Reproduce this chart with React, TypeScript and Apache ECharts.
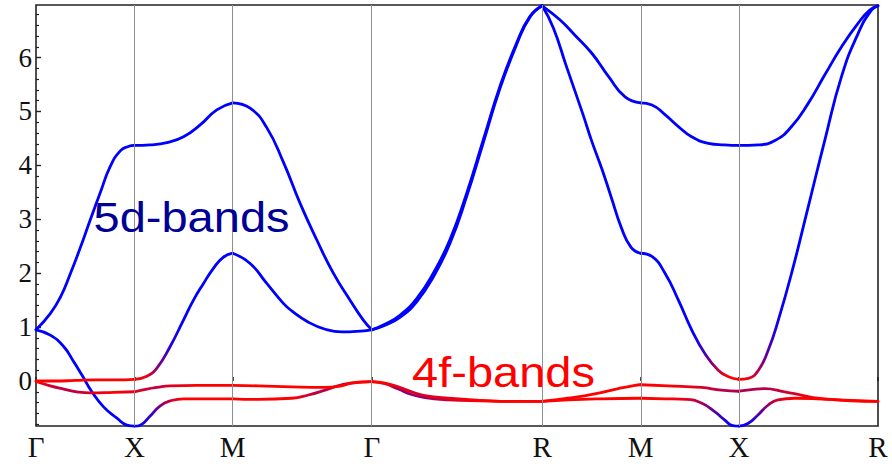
import React, { useEffect, useRef } from "react";
import * as echarts from "echarts";

// High-symmetry path through the simple-cubic Brillouin zone
const pathLabels = ["Γ", "X", "M", "Γ", "R", "M", "X", "R"];
const segmentLengths = [1, 1, Math.SQRT2, Math.sqrt(3), 1, 1, Math.SQRT2];

const energyTicks = [0, 1, 2, 3, 4, 5, 6];
const energyMin = -0.835;
const energyMax = 6.975;

// Each band: [k along path, energy (eV), 4f weight (0 = pure 5d, 1 = pure 4f)]
const bandTop = [
  [0, 0.95, 0], [0.145, 1.25, 0], [0.247, 1.55, 0], [0.349, 1.99, 0], [0.45, 2.47, 0], [0.552, 2.99, 0], [0.653, 3.49, 0], [0.755, 3.98, 0], [0.857, 4.27, 0], [0.938, 4.35, 0], [1, 4.37, 0],
  [1.161, 4.38, 0], [1.33, 4.42, 0], [1.5, 4.53, 0], [1.669, 4.75, 0], [1.838, 5.03, 0], [2, 5.16, 0],
  [2.177, 5.06, 0], [2.346, 4.7, 0], [2.515, 4.06, 0], [2.684, 3.3, 0], [2.854, 2.62, 0], [3.023, 2.0, 0], [3.193, 1.5, 0], [3.328, 1.13, 0], [3.414, 0.95, 0],
  [3.531, 1.04, 0], [3.7, 1.22, 0], [3.87, 1.53, 0], [4.039, 2.0, 0], [4.208, 2.62, 0], [4.378, 3.48, 0], [4.547, 4.47, 0], [4.716, 5.46, 0], [4.886, 6.27, 0], [5.021, 6.76, 0], [5.146, 6.96, 0],
  [5.326, 6.7, 0], [5.477, 6.42, 0], [5.651, 6.08, 0], [5.82, 5.65, 0], [5.989, 5.27, 0], [6.146, 5.16, 0],
  [6.262, 5.12, 0], [6.395, 4.94, 0], [6.531, 4.72, 0], [6.666, 4.53, 0], [6.835, 4.41, 0], [7.0, 4.38, 0], [7.146, 4.37, 0],
  [7.345, 4.38, 0], [7.513, 4.46, 0], [7.682, 4.72, 0], [7.851, 5.15, 0], [8.02, 5.68, 0], [8.19, 6.2, 0], [8.359, 6.64, 0], [8.477, 6.88, 0], [8.56, 6.96, 0],
];

const bandUpper = [
  [0, 0.0, 1], [0.2, 0.0, 1], [0.4, 0.01, 1], [0.6, 0.02, 1], [0.8, 0.02, 1], [1, 0.03, 1],
  [1.127, 0.09, 0.9], [1.229, 0.24, 0.55], [1.364, 0.64, 0.15], [1.499, 1.13, 0], [1.601, 1.5, 0], [1.7, 1.8, 0], [1.8, 2.08, 0], [1.9, 2.29, 0], [2, 2.37, 0],
  [2.177, 2.18, 0], [2.346, 1.81, 0], [2.515, 1.44, 0], [2.6, 1.3, 0], [2.77, 1.09, 0], [2.94, 0.96, 0], [3.11, 0.91, 0], [3.26, 0.92, 0], [3.414, 0.95, 0],
  [3.531, 1.02, 0], [3.7, 1.18, 0], [3.87, 1.47, 0], [4.039, 1.93, 0], [4.208, 2.55, 0], [4.378, 3.42, 0], [4.547, 4.42, 0], [4.716, 5.42, 0], [4.886, 6.24, 0], [5.021, 6.75, 0], [5.146, 6.96, 0],
  [5.26, 6.55, 0], [5.39, 5.85, 0], [5.56, 4.95, 0], [5.65, 4.45, 0], [5.75, 3.95, 0], [5.85, 3.4, 0], [5.95, 2.85, 0], [6.05, 2.48, 0], [6.146, 2.37, 0],
  [6.262, 2.31, 0], [6.395, 2.0, 0], [6.531, 1.5, 0], [6.666, 0.95, 0], [6.8, 0.51, 0.25], [6.936, 0.2, 0.75], [7.04, 0.08, 1], [7.146, 0.03, 1],
  [7.243, 0.05, 0.95], [7.345, 0.2, 0.7], [7.446, 0.58, 0.3], [7.547, 1.13, 0.05], [7.682, 2.0, 0], [7.851, 3.23, 0], [8.02, 4.47, 0], [8.19, 5.65, 0], [8.359, 6.45, 0], [8.494, 6.88, 0], [8.56, 6.96, 0],
];

const bandLower = [
  [0, 0.95, 0], [0.145, 0.85, 0], [0.281, 0.64, 0], [0.382, 0.36, 0], [0.467, 0.11, 0], [0.568, -0.2, 0], [0.687, -0.48, 0], [0.823, -0.69, 0], [0.924, -0.82, 0], [1, -0.84, 0],
  [1.06, -0.82, 0.05], [1.161, -0.65, 0.2], [1.263, -0.46, 0.5], [1.364, -0.37, 0.8], [1.499, -0.33, 1], [1.737, -0.33, 1], [2, -0.33, 1],
  [2.261, -0.34, 1], [2.6, -0.32, 1], [2.769, -0.26, 0.8], [2.939, -0.17, 0.7], [3.108, -0.07, 0.75], [3.277, -0.02, 0.9], [3.414, -0.01, 1],
  [3.548, -0.05, 0.8], [3.683, -0.15, 0.6], [3.819, -0.25, 0.55], [3.954, -0.31, 0.6], [4.19, -0.35, 0.8], [4.53, -0.37, 1], [4.87, -0.38, 1], [5.146, -0.38, 1],
  [5.41, -0.35, 1], [5.75, -0.33, 1], [6.146, -0.32, 1],
  [6.4, -0.33, 1], [6.61, -0.34, 0.9], [6.765, -0.41, 0.65], [6.9, -0.57, 0.35], [7.0, -0.72, 0.15], [7.085, -0.83, 0], [7.146, -0.84, 0],
  [7.238, -0.79, 0.05], [7.34, -0.63, 0.3], [7.442, -0.45, 0.6], [7.543, -0.35, 0.85], [7.712, -0.32, 1], [7.949, -0.33, 1], [8.288, -0.36, 1], [8.56, -0.38, 1],
];

const bandFlat = [
  [0, -0.01, 1], [0.145, -0.09, 0.8], [0.281, -0.15, 0.75], [0.416, -0.2, 0.75], [0.552, -0.22, 0.85], [0.788, -0.21, 1], [1, -0.2, 0.9],
  [1.127, -0.15, 0.8], [1.229, -0.12, 0.75], [1.364, -0.09, 0.85], [1.635, -0.08, 1], [2, -0.08, 1],
  [2.261, -0.09, 1], [2.6, -0.11, 1], [2.939, -0.12, 1], [3.108, -0.09, 1], [3.21, -0.04, 1], [3.414, -0.01, 1],
  [3.548, -0.04, 1], [3.683, -0.11, 0.9], [3.819, -0.2, 0.85], [3.954, -0.27, 0.85], [4.19, -0.32, 0.9], [4.53, -0.36, 1], [4.87, -0.38, 1], [5.146, -0.38, 1],
  [5.41, -0.32, 1], [5.68, -0.24, 1], [5.92, -0.14, 1], [6.09, -0.08, 1], [6.146, -0.07, 1],
  [6.426, -0.09, 1], [6.765, -0.12, 0.85], [6.968, -0.17, 0.7], [7.146, -0.19, 0.7],
  [7.273, -0.16, 0.7], [7.408, -0.14, 0.7], [7.611, -0.2, 0.8], [7.78, -0.26, 0.9], [7.949, -0.32, 1], [8.288, -0.37, 1], [8.56, -0.38, 1],
];

const bands = [bandLower, bandFlat, bandUpper, bandTop];

const kPos = segmentLengths.reduce((acc, len) => [...acc, acc[acc.length - 1] + len], [0] as number[]);
const kMax = kPos[kPos.length - 1];
const minorTicks: number[] = [];
for (let i = -4; i <= 34; i++) if (i % 5 !== 0) minorTicks.push(i / 5);

const mixColor = (w: number) => {
  const r = Math.round(255 * w);
  const b = Math.round(255 * (1 - w));
  return `rgb(${r},0,${b})`;
};

const serif = '"Liberation Serif", "Times New Roman", serif';

function buildOption(toPx: ((k: number) => number) | null) {
  const series: any[] = [
    {
      type: "line",
      data: [[0, 0]],
      symbol: "none",
      lineStyle: { opacity: 0 },
      silent: true,
      z: 1,
      markLine: {
        silent: true,
        symbol: ["none", "none"],
        label: { show: false },
        lineStyle: { color: "#8f8f8f", width: 1, type: "solid" },
        data: kPos.slice(1, -1).map((k) => ({ xAxis: k })),
      },
    },
  ];
  bands.forEach((band) => {
    let color: any = mixColor(band[0][2]);
    if (toPx) {
      const stops = band.map((p) => ({
        offset: Math.min(1, Math.max(0, p[0] / kMax)),
        color: mixColor(p[2]),
      }));
      color = new echarts.graphic.LinearGradient(toPx(0), 0, toPx(kMax), 0, stops, true);
    }
    kPos.slice(0, -1).forEach((k0, i) => {
      const k1 = kPos[i + 1];
      const pts = band.filter((p) => p[0] >= k0 - 0.01 && p[0] <= k1 + 0.01).map((p) => [p[0], p[1]]);
      series.push({
        type: "line",
        data: pts,
        symbol: "none",
        smooth: 0.5,
        clip: true,
        z: 3,
        lineStyle: { color, width: 2.8, cap: "round", join: "round" },
      });
    });
  });

  return {
    animation: false,
    backgroundColor: "#ffffff",
    grid: {
      left: 36,
      right: 14,
      top: 5,
      bottom: 40,
      show: true,
      borderColor: "#222222",
      borderWidth: 1.6,
      backgroundColor: "transparent",
    },
    xAxis: {
      type: "value",
      min: 0,
      max: kMax,
      axisLine: { show: false },
      splitLine: { show: false },
      axisTick: {
        show: true,
        inside: true,
        length: 4,
        customValues: kPos,
        lineStyle: { color: "#222222", width: 1.6 },
      },
      axisLabel: {
        customValues: kPos,
        margin: 6,
        fontFamily: serif,
        fontSize: 29,
        color: "#111111",
        formatter: (v: number) => {
          const idx = kPos.findIndex((k) => Math.abs(k - v) < 1e-6);
          return idx >= 0 ? pathLabels[idx] : "";
        },
      },
    },
    yAxis: [
      {
        type: "value",
        min: energyMin,
        max: energyMax,
        axisLine: { show: false },
        splitLine: { show: false },
        axisTick: {
          show: true,
          inside: true,
          length: 5,
          customValues: energyTicks,
          lineStyle: { color: "#222222", width: 1.4 },
        },
        axisLabel: {
          customValues: energyTicks,
          margin: 4,
          fontFamily: serif,
          fontSize: 27,
          color: "#111111",
        },
      },
      {
        type: "value",
        min: energyMin,
        max: energyMax,
        position: "left",
        axisLine: { show: false },
        splitLine: { show: false },
        axisLabel: { show: false },
        axisTick: {
          show: true,
          inside: true,
          length: 3,
          customValues: minorTicks,
          lineStyle: { color: "#222222", width: 1.2 },
        },
      },
    ],
    series,
    graphic: [
      {
        type: "text",
        x: 93.5,
        y: 217.5,
        scaleX: 1.12,
        z: 10,
        style: {
          text: "5d-bands",
          fontFamily: '"Liberation Sans", Arial, sans-serif',
          fontSize: 42,
          fill: "#000096",
          verticalAlign: "middle",
        },
      },
      {
        type: "text",
        x: 412,
        y: 372.5,
        scaleX: 1.12,
        z: 10,
        style: {
          text: "4f-bands",
          fontFamily: '"Liberation Sans", Arial, sans-serif',
          fontSize: 42,
          fill: "#ff0000",
          verticalAlign: "middle",
        },
      },
    ],
  };
}

export default function App() {
  const ref = useRef<HTMLDivElement>(null);
  useEffect(() => {
    if (!ref.current) return;
    const chart = echarts.init(ref.current, null, { renderer: "svg" });
    chart.setOption(buildOption(null) as any);
    const toPx = (k: number) => chart.convertToPixel({ xAxisIndex: 0 }, k) as number;
    chart.setOption(buildOption(toPx) as any, true);
    return () => chart.dispose();
  }, []);
  return (
    <div
      ref={ref}
      style={{ position: "absolute", left: 0, top: 0, width: 892, height: 466, background: "#fff" }}
    />
  );
}
